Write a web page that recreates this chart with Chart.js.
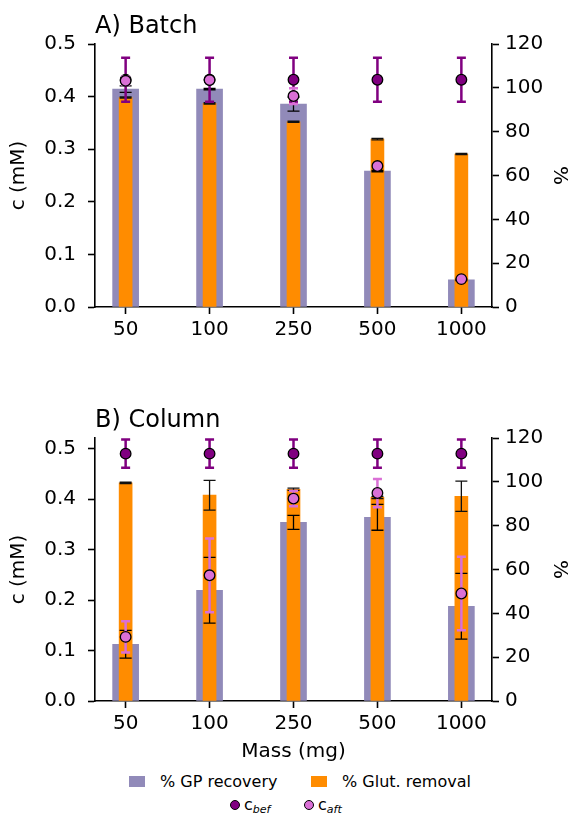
<!DOCTYPE html>
<html><head><meta charset="utf-8">
<script src="https://cdn.jsdelivr.net/npm/chart.js@4"></script>
<style>
html,body{margin:0;padding:0;background:#fff;}
body{width:569px;height:816px;position:relative;overflow:hidden;font-family:'DejaVu Sans';}
canvas{position:absolute;left:0;}
#cA{top:0;} #cB{top:390px;}
.lg{position:absolute;font-size:16px;line-height:20px;white-space:nowrap;color:#000;}
.lg sub{font-size:11px;font-style:italic;vertical-align:-3px;line-height:0;}
.patch{position:absolute;width:16px;height:11px;}
.dot{position:absolute;width:8px;height:8px;border-radius:50%;border:1.3px solid #000;}
</style></head><body>
<canvas id="cA" width="569" height="345"></canvas>
<canvas id="cB" width="569" height="375"></canvas>
<div id="legend"></div>
<script>
// ---- data ----
const massLabels = ['50', '100', '250', '500', '1000'];
const seriesNames = ['% GP recovery', '% Glut. removal', 'c_bef', 'c_aft'];

// A) Batch
const batchGP       = [99.4, 99.4, 92.6, 62.0, 12.4];
const batchGPErr    = [1.5, 0.3, 3.2, 0.3, 0.3];
const batchGlut     = [95.6, 92.9, 84.5, 76.6, 69.8];
const batchGlutErr  = [0.3, 0.3, 0.3, 0.3, 0.3];
const batchCbef     = [0.432, 0.432, 0.432, 0.432, 0.432];
const batchCbefErr  = [0.042, 0.042, 0.042, 0.042, 0.042];
const batchCaft     = [0.430, 0.4315, 0.401, 0.268, 0.053];
const batchCaftErr  = [0.008, 0.004, 0.015, 0.004, 0.003];

// B) Column
const colGP         = [25.9, 50.5, 81.5, 83.8, 43.2];
const colGPErr      = [6.3, 15.0, 3.2, 5.9, 15.0];
const colGlut       = [99.5, 93.9, 96.6, 92.9, 93.4];
const colGlutErr    = [0.3, 6.8, 0.5, 0.5, 6.9];
const colCbef       = [0.490, 0.490, 0.490, 0.490, 0.490];
const colCbefErr    = [0.028, 0.028, 0.028, 0.028, 0.028];
const colCaft       = [0.127, 0.249, 0.401, 0.412, 0.213];
const colCaftErr    = [0.031, 0.073, 0.015, 0.028, 0.073];

// ---- styles ----
const GP_COLOR = '#918ab9';
const GLUT_COLOR = '#ff8c00';
const CBEF_COLOR = '#800080';
const CAFT_COLOR = '#da70d6';

Chart.defaults.font.family = "'DejaVu Sans', sans-serif";
Chart.defaults.font.size = 20;
Chart.defaults.color = '#000';

function toXY(arr) { return arr.map((v, i) => ({x: i, y: v})); }

function drawErrors(chart, i) {
  const ds = chart.data.datasets[i];
  const meta = chart.getDatasetMeta(i);
  const xs = chart.scales[meta.xAxisID];
  const ys = chart.scales[meta.yAxisID];
  const ctx = chart.ctx;
  ctx.save();
  ctx.strokeStyle = ds.errColor;
  ctx.lineWidth = ds.errWidth;
  ds.data.forEach((p, k) => {
    const e = ds.errors[k];
    const x = xs.getPixelForValue(p.x);
    const y1 = ys.getPixelForValue(p.y - e);
    const y2 = ys.getPixelForValue(p.y + e);
    const c = ds.errCap;
    ctx.beginPath();
    ctx.moveTo(x, y1); ctx.lineTo(x, y2);
    ctx.moveTo(x - c, y1); ctx.lineTo(x + c, y1);
    ctx.moveTo(x - c, y2); ctx.lineTo(x + c, y2);
    ctx.stroke();
  });
  ctx.restore();
}

const errorBarPlugin = {
  id: 'errorBars',
  beforeDatasetDraw(chart, args) {
    const ds = chart.data.datasets[args.index];
    if (ds.type === 'scatter') drawErrors(chart, args.index);
  },
  afterDatasetDraw(chart, args) {
    const ds = chart.data.datasets[args.index];
    if (ds.barErrorsAfter) {
      chart.data.datasets.forEach((d, j) => { if (d.type === 'bar') drawErrors(chart, j); });
    }
  }
};

const panelTitlePlugin = {
  id: 'panelTitle',
  afterDraw(chart, args, opts) {
    const ctx = chart.ctx;
    ctx.save();
    ctx.font = "24px 'DejaVu Sans'";
    ctx.fillStyle = '#000';
    ctx.textBaseline = 'alphabetic';
    ctx.textAlign = 'left';
    ctx.fillText(opts.text, chart.chartArea.left, chart.chartArea.top - 11.5);
    ctx.restore();
  }
};

function axisCommon() {
  return {
    grid: {display: true, drawOnChartArea: false, drawTicks: true, tickLength: 7, tickWidth: 1.6, tickColor: '#000', offset: false},
    border: {display: true, color: '#000', width: 1.6}
  };
}

function makeChart(id, title, gp, gpErr, glut, glutErr, cbef, cbefErr, caft, caftErr, cMax, padTop, xH, xTitle) {
  return new Chart(document.getElementById(id), {
    type: 'bar',
    data: {
      datasets: [
        {type: 'bar', label: seriesNames[0], data: toXY(gp), errors: gpErr, yAxisID: 'y1',
         backgroundColor: GP_COLOR, borderWidth: 0, barThickness: 26, grouped: false, order: 4,
         errColor: '#000', errWidth: 1.3, errCap: 6},
        {type: 'bar', label: seriesNames[1], data: toXY(glut), errors: glutErr, yAxisID: 'y1',
         backgroundColor: GLUT_COLOR, borderWidth: 0, barThickness: 13, grouped: false, order: 3,
         barErrorsAfter: true, errColor: '#111', errWidth: 1.3, errCap: 6},
        {type: 'scatter', label: seriesNames[2], data: toXY(cbef), errors: cbefErr, yAxisID: 'y',
         pointRadius: 5.3, pointBackgroundColor: CBEF_COLOR, pointBorderColor: '#000', pointBorderWidth: 1.3,
         order: 2, errColor: CBEF_COLOR, errWidth: 2.5, errCap: 4.5},
        {type: 'scatter', label: seriesNames[3], data: toXY(caft), errors: caftErr, yAxisID: 'y',
         pointRadius: 5.3, pointBackgroundColor: CAFT_COLOR, pointBorderColor: '#000', pointBorderWidth: 1.3,
         order: 1, errColor: CAFT_COLOR, errWidth: 2.5, errCap: 4.5}
      ]
    },
    options: {
      responsive: false, animation: false, devicePixelRatio: 1,
      layout: {padding: {top: padTop, left: 0, right: 0, bottom: 0}},
      plugins: {legend: {display: false}, tooltip: {enabled: false}, panelTitle: {text: title}},
      scales: {
        x: Object.assign(axisCommon(), {
          type: 'linear', min: -0.365, max: 4.365, offset: false,
          ticks: {stepSize: 1, includeBounds: false, padding: 4, maxRotation: 0, autoSkip: false,
                  callback: v => (massLabels[v] !== undefined ? massLabels[v] : '')},
          title: {display: !!xTitle, text: xTitle || '', font: {size: 20, lineHeight: 1}, padding: {top: 0, bottom: 3}},
          afterFit: s => { s.height = xH; }
        }),
        y: Object.assign(axisCommon(), {
          type: 'linear', position: 'left', min: 0, max: cMax,
          ticks: {stepSize: 0.1, includeBounds: false, padding: 12, callback: v => v.toFixed(1)},
          title: {display: true, text: 'c (mM)', font: {size: 20, lineHeight: 1}, padding: {top: 8.5, bottom: 0}},
          afterFit: s => { s.width = 95; }
        }),
        y1: Object.assign(axisCommon(), {
          type: 'linear', position: 'right', min: 0, max: 120,
          ticks: {stepSize: 20, padding: 6},
          title: {display: true, text: '%', font: {size: 20, lineHeight: 1}, padding: {top: 0, bottom: 0}},
          afterFit: s => { s.width = 77; }
        })
      }
    },
    plugins: [errorBarPlugin, panelTitlePlugin]
  });
}

makeChart('cA', 'A) Batch', batchGP, batchGPErr, batchGlut, batchGlutErr,
          batchCbef, batchCbefErr, batchCaft, batchCaftErr, 0.5, 44, 38, '');
makeChart('cB', 'B) Column', colGP, colGPErr, colGlut, colGlutErr,
          colCbef, colCbefErr, colCaft, colCaftErr, 0.521, 48, 64, 'Mass (mg)');

// ---- legend (HTML text) ----
const lg = document.getElementById('legend');
function add(html) { lg.insertAdjacentHTML('beforeend', html); }
function subLabel(name) {
  const p = name.split('_');
  return p.length > 1 ? p[0] + '<sub>' + p[1] + '</sub>' : name;
}
add('<div class="patch" style="left:129px;top:776px;background:' + GP_COLOR + '"></div>');
add('<div class="lg" style="left:160px;top:772px">' + seriesNames[0] + '</div>');
add('<div class="patch" style="left:311px;top:776px;background:' + GLUT_COLOR + '"></div>');
add('<div class="lg" style="left:342px;top:772px">' + seriesNames[1] + '</div>');
add('<div class="dot" style="left:230px;top:799.5px;background:' + CBEF_COLOR + '"></div>');
add('<div class="lg" style="left:244px;top:795px">' + subLabel(seriesNames[2]) + '</div>');
add('<div class="dot" style="left:304px;top:799.5px;background:' + CAFT_COLOR + '"></div>');
add('<div class="lg" style="left:318px;top:795px">' + subLabel(seriesNames[3]) + '</div>');
</script>
</body></html>
